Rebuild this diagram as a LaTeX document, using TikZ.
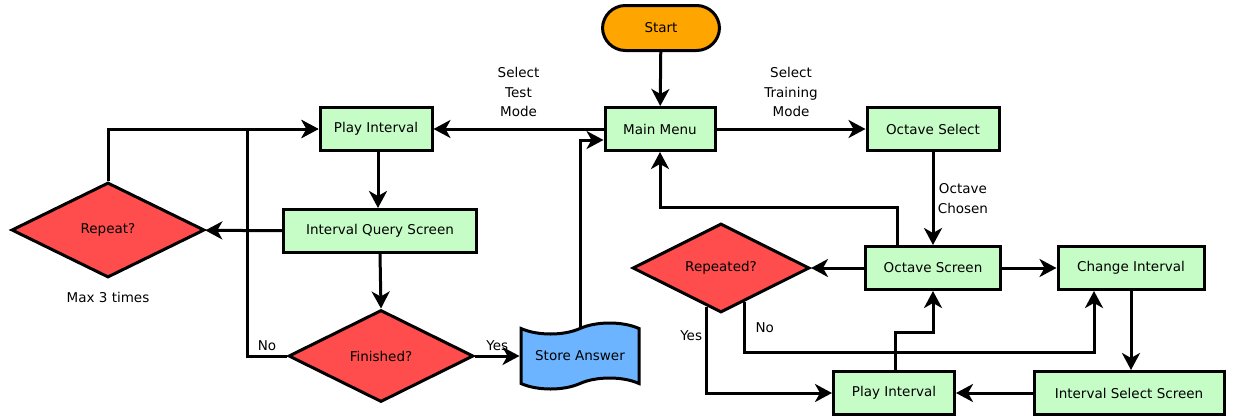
\documentclass[tikz,border=0pt]{standalone}
\usepackage{fontspec}
\setmainfont{DejaVu Sans}
\usepackage[svgnames]{xcolor}
\usetikzlibrary{shapes.geometric,shapes.symbols,arrows.meta}
\definecolor{screenGreen}{HTML}{C6FCC6}
\definecolor{decisionRed}{HTML}{FF4D4D}
\definecolor{startOrange}{HTML}{FFA500}
\definecolor{storeBlue}{HTML}{6CB4FF}

\begin{document}
\begin{tikzpicture}[
  x=1pt, y=-1pt,
  every node/.style={font=\fontsize{13.5}{19.5}\selectfont},
  startbox/.style={draw, line width=3pt, fill=startOrange, rounded corners=23pt,
    minimum width=117pt, minimum height=45pt},
  screen/.style={draw, line width=3pt, fill=screenGreen, minimum height=43pt, inner sep=0pt},
  decision/.style={draw, diamond, line width=3pt, fill=decisionRed, inner sep=0pt},
  storebox/.style={draw, tape, line width=3pt, fill=storeBlue, tape bend height=11pt,
    minimum width=118pt, minimum height=66pt},
  flow/.style={line width=3pt, -{Stealth[length=17pt,width=18pt,inset=5pt]}}
]
\useasboundingbox (0,0) rectangle (1235,418);

\node[startbox] (start) at (661,28) {Start};
\node[screen, minimum width=110pt] (menu) at (660,129) {Main Menu};
\node[screen, minimum width=112pt] (playL) at (376,129) {Play Interval};
\node[screen, minimum width=193pt] (query) at (380,231) {Interval Query Screen};
\node[decision, minimum width=193pt, minimum height=95pt] (repeat) at (108,230) {Repeat?};
\node (maxnote) at (108,297) {Max 3 times};
\node[decision, minimum width=185pt, minimum height=92pt] (finished) at (381,356) {Finished?};
\node[storebox] (store) at (580,356) {Store Answer};
\node[screen, minimum width=132pt] (octSel) at (933,129) {Octave Select};
\node[screen, minimum width=135pt] (octScr) at (933,268) {Octave Screen};
\node[screen, minimum width=146pt] (change) at (1131,268) {Change Interval};
\node[decision, minimum width=177pt, minimum height=89pt] (repeated) at (721,268) {Repeated?};
\node[screen, minimum width=121pt] (playR) at (894,393) {Play Interval};
\node[screen, minimum width=190pt] (select) at (1129,393) {Interval Select Screen};

\draw[flow] (start) -- (menu);
\draw[flow] (menu) -- node[above=7pt, align=center] {Select\\Test\\Mode} (playL);
\draw[flow] (menu) -- node[above=7pt, align=center] {Select\\Training\\Mode} (octSel);
\draw[flow] (playL.south -| 378,0) -- (query.north -| 378,0);
\draw[flow] (query) -- (repeat);
\draw[flow] (repeat.north) |- (playL.west);
\draw[flow] (query.south) -- (finished.north);
\draw[flow] (finished.west) -- node[above] {No} ++(-40,0) |- (playL.west);
\draw[flow] (finished.east) -- node[above] {Yes} (store.west);
\draw[flow] (store.north) |- ([yshift=-11pt]menu.west);

\draw[flow] (octSel) -- node[right, align=center] {Octave\\Chosen} (octScr);
\draw[flow] ([xshift=-36pt]octScr.north) -- ++(0,-38) -| (menu.south);
\draw[flow] (octScr) -- (repeated);
\draw[flow] (octScr) -- (change);
\draw[flow] (change) -- (change |- select.north);
\draw[flow] (select) -- (playR);
\draw[flow] ([xshift=1pt]playR.north) -- ++(0,-38) -| (octScr.south);
\draw[flow] (repeated.250) |- node[pos=0.17, left] {Yes} (playR.west);
\draw[flow] (repeated.305) -- node[right=6pt] {No} ++(0,51) -| ([xshift=-37pt]change.south);
\end{tikzpicture}
\end{document}
